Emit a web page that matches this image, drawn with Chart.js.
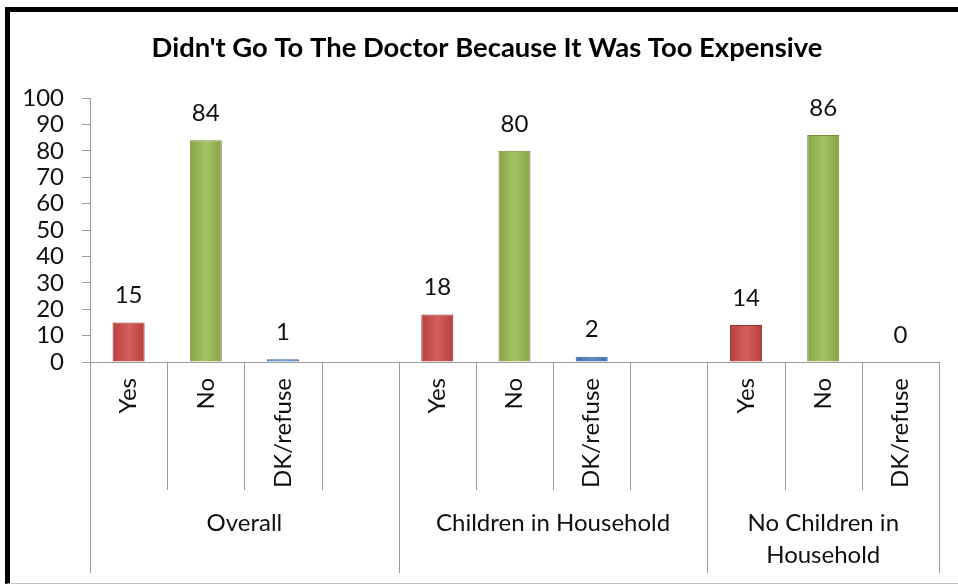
<!DOCTYPE html>
<html>
<head>
<meta charset="utf-8">
<script src="https://cdn.jsdelivr.net/npm/chart.js@4.4.1/dist/chart.umd.min.js"></script>
<style>
  html, body { margin: 0; padding: 0; background: #fff; width: 958px; height: 585px; overflow: hidden; }
  #frame { position: absolute; left: 5px; top: 7px; width: 1000px; height: 577px;
           border-top: 5px solid #000; border-left: 5px solid #000; border-bottom: 1px solid #c4c4c4; box-sizing: border-box; }
  #chart { position: absolute; left: 10px; top: 12px; }
</style>
</head>
<body>
<div id="frame"></div>
<canvas id="chart" width="948" height="572"></canvas>
<script>
// ===== DATA =====
const titleText = "Didn't Go To The Doctor Because It Was Too Expensive";
const categories = ['Yes', 'No', 'DK/refuse', '', 'Yes', 'No', 'DK/refuse', '', 'Yes', 'No', 'DK/refuse'];
const values = [15, 84, 1, null, 18, 80, 2, null, 14, 86, 0];
const groupLabels = [['Overall'], ['Children in Household'], ['No Children in', 'Household']];
const groupStart = [0, 4, 8];
const groupEnd = [3, 7, 10];
const yTicks = [0, 10, 20, 30, 40, 50, 60, 70, 80, 90, 100];

const FONT = 'Lato, "Noto Sans", sans-serif';
const AXIS = '#9a9a9a';

// fill (edge, middle) and outline per answer
const fills = {
    'Yes': ['#B8403E', '#D2605D'],
    'No': ['#86A447', '#A4C463'],
    'DK/refuse': ['#3F6FA8', '#5A8DCB']
};
const edges = { 'Yes': '#8E3533', 'No': '#6F8A3C', 'DK/refuse': '#3A6598' };

// horizontal shading so the bars look a bit like the bevelled original
function barFill(context) {
    const c = categories[context.dataIndex];
    if (!fills[c]) return 'transparent';
    const chart = context.chart;
    const x = chart.scales.x;
    if (!x || !chart.chartArea) return fills[c][1];
    const cx = x.getPixelForValue(context.dataIndex);
    const w = 16;
    const g = chart.ctx.createLinearGradient(cx - w, 0, cx + w, 0);
    g.addColorStop(0, fills[c][0]);
    g.addColorStop(0.5, fills[c][1]);
    g.addColorStop(1, fills[c][0]);
    return g;
}

// title, placed a little right of the canvas centre like the original
const titleDraw = {
    id: 'titleDraw',
    afterDraw(chart) {
        const ctx = chart.ctx;
        ctx.save();
        ctx.font = 'bold 27.4px ' + FONT;
        ctx.fillStyle = '#000';
        ctx.textAlign = 'center';
        ctx.textBaseline = 'middle';
        ctx.fillText(titleText, chart.width / 2 + 3, 36);
        ctx.restore();
    }
};

// value labels above bars
const valueLabels = {
    id: 'valueLabels',
    afterDatasetsDraw(chart) {
        const ctx = chart.ctx;
        const meta = chart.getDatasetMeta(0);
        ctx.save();
        ctx.font = '24px ' + FONT;
        ctx.fillStyle = '#111';
        ctx.textAlign = 'center';
        ctx.textBaseline = 'middle';
        meta.data.forEach((bar, i) => {
            if (values[i] === null) return;
            ctx.fillText(String(values[i]), bar.x, bar.y - 27);
        });
        ctx.restore();
    }
};

// category dividers + group labels under the x axis
const groupAxis = {
    id: 'groupAxis',
    afterDraw(chart) {
        const ctx = chart.ctx;
        const x = chart.scales.x;
        const bottom = chart.chartArea.bottom;
        const half = (x.getPixelForValue(1) - x.getPixelForValue(0)) / 2;
        const edge = i => x.getPixelForValue(i) + half; // right edge of category i
        ctx.save();
        ctx.strokeStyle = AXIS;
        ctx.lineWidth = 1;
        ctx.beginPath();
        // short dividers inside groups
        for (let i = 0; i < categories.length - 1; i++) {
            if (groupEnd.includes(i)) continue;
            const px = Math.round(edge(i)) + 0.5;
            ctx.moveTo(px, bottom);
            ctx.lineTo(px, bottom + 128);
        }
        // tall dividers at group boundaries
        const tall = [x.getPixelForValue(0) - half, ...groupEnd.map(edge)];
        tall.forEach(p => {
            const px = Math.round(p) + 0.5;
            ctx.moveTo(px, bottom);
            ctx.lineTo(px, bottom + 211);
        });
        ctx.stroke();

        ctx.font = '24px ' + FONT;
        ctx.fillStyle = '#111';
        ctx.textAlign = 'center';
        ctx.textBaseline = 'middle';
        groupLabels.forEach((lines, g) => {
            const cx = (x.getPixelForValue(groupStart[g]) - half + edge(groupEnd[g])) / 2;
            lines.forEach((t, k) => ctx.fillText(t, cx, bottom + 161 + k * 32));
        });
        ctx.restore();
    }
};

const chart = new Chart(document.getElementById('chart'), {
    type: 'bar',
    data: {
        labels: categories,
        datasets: [{
            data: values,
            backgroundColor: barFill,
            borderColor: categories.map(c => edges[c] || 'transparent'),
            borderWidth: 1,
            categoryPercentage: 1,
            barPercentage: 0.415
        }]
    },
    options: {
        responsive: false,
        animation: false,
        devicePixelRatio: 1,
        layout: { padding: { left: 0, right: 19, top: 86, bottom: 0 } },
        plugins: {
            legend: { display: false },
            tooltip: { enabled: false },
            title: { display: false }
        },
        scales: {
            x: {
                grid: { display: false, drawTicks: false },
                border: { display: true, color: AXIS, width: 1 },
                ticks: {
                    autoSkip: false,
                    minRotation: 90,
                    maxRotation: 90,
                    padding: 16,
                    color: '#111',
                    font: { family: FONT, size: 24 }
                },
                afterFit(scale) { scale.height = 222; }
            },
            y: {
                min: 0,
                max: 100,
                afterBuildTicks(scale) { scale.ticks = yTicks.map(v => ({ value: v })); },
                grid: { drawOnChartArea: false, drawTicks: true, tickLength: 8, color: AXIS },
                border: { display: true, color: AXIS, width: 1 },
                ticks: {
                    autoSkip: false,
                    padding: 18,
                    color: '#111',
                    font: { family: FONT, size: 24 }
                },
                afterFit(scale) { scale.width = 80; }
            }
        }
    },
    plugins: [valueLabels, groupAxis, titleDraw]
});
</script>
</body>
</html>
